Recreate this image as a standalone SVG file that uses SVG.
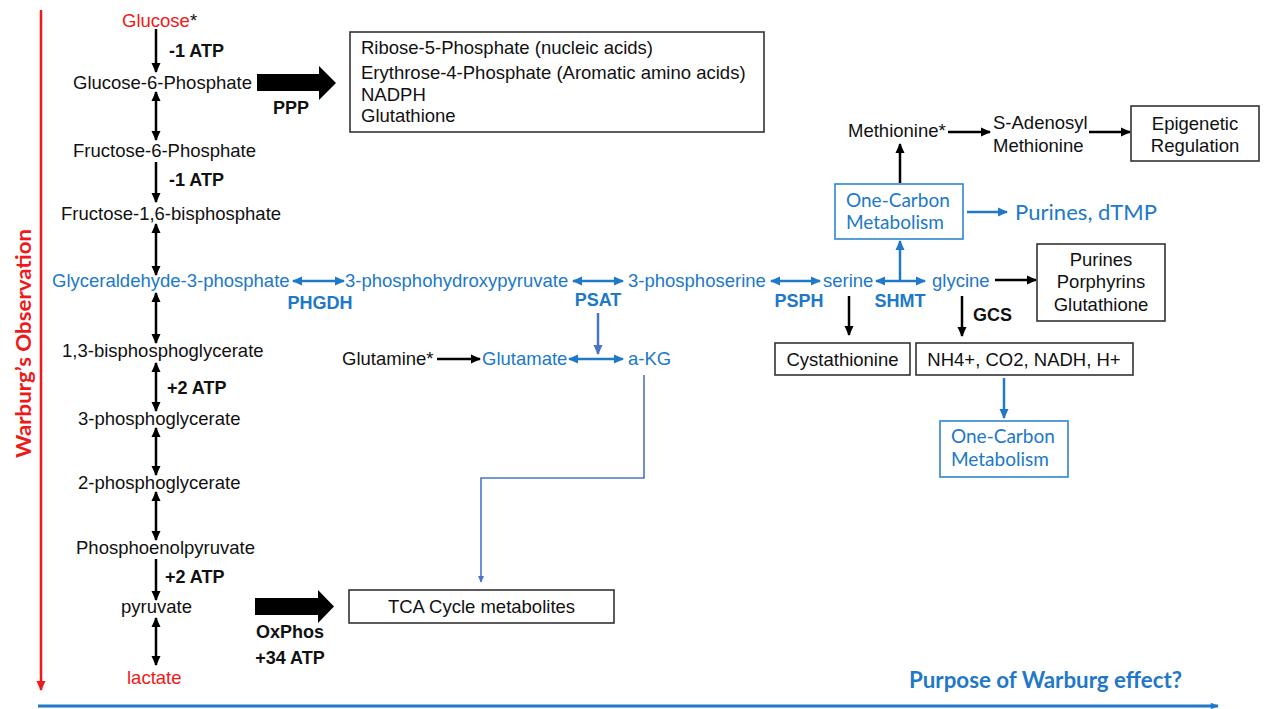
<svg xmlns="http://www.w3.org/2000/svg" width="1268" height="709" viewBox="0 0 1268 709">
<style>
.t{font-family:"Liberation Sans",Arial,sans-serif;font-size:18.5px;fill:#111}
.b{font-family:"Liberation Sans",Arial,sans-serif;font-size:18px;font-weight:bold;fill:#111}
.bl{fill:#2078C8}
.rd{fill:#F01818}
.c{font-family:Lato,"Open Sans",sans-serif;fill:#2078C8}
.box{fill:#fff;stroke:#333;stroke-width:1.6}
.bbox{fill:#fff;stroke:#2E86D0;stroke-width:1.6}
.k{stroke:#000;stroke-width:2.5;fill:none}
.u{stroke:#2078C8;stroke-width:2.5;fill:none}
.p{stroke:#4A74C9;stroke-width:2.5;fill:none}
</style>
<defs>
<marker id="hk" viewBox="0 0 10 10" refX="9" refY="5" markerWidth="10" markerHeight="10" markerUnits="userSpaceOnUse" orient="auto-start-reverse"><path d="M0,0.5L10,5L0,9.5z" fill="#000"/></marker>
<marker id="hu" viewBox="0 0 10 10" refX="9" refY="5" markerWidth="10" markerHeight="10" markerUnits="userSpaceOnUse" orient="auto-start-reverse"><path d="M0,0.5L10,5L0,9.5z" fill="#2078C8"/></marker>
<marker id="hp" viewBox="0 0 10 10" refX="9" refY="5" markerWidth="10" markerHeight="10" markerUnits="userSpaceOnUse" orient="auto-start-reverse"><path d="M0,0.5L10,5L0,9.5z" fill="#4A74C9"/></marker>
<marker id="hs" viewBox="0 0 10 10" refX="9" refY="5" markerWidth="7" markerHeight="7" markerUnits="userSpaceOnUse" orient="auto"><path d="M0,0.5L10,5L0,9.5z" fill="#4A74C9"/></marker>
<marker id="hr" viewBox="0 0 10 10" refX="9" refY="5" markerWidth="10" markerHeight="10" markerUnits="userSpaceOnUse" orient="auto"><path d="M0,0.5L10,5L0,9.5z" fill="#F01818"/></marker>
<marker id="ha" viewBox="0 0 10 10" refX="9" refY="5" markerWidth="10" markerHeight="8" markerUnits="userSpaceOnUse" orient="auto"><path d="M0,1L10,5L0,9z" fill="#1F78C8"/></marker>
</defs>

<g id="axes">
<line x1="41" y1="10" x2="41" y2="690" stroke="#F01818" stroke-width="2.5" marker-end="url(#hr)"/>
<line x1="38" y1="706" x2="1218" y2="706" stroke="#1F78C8" stroke-width="3" marker-end="url(#ha)"/>
<text x="22.5" y="343.5" transform="rotate(-90 22.5 343.5)" text-anchor="middle" dominant-baseline="central" font-family="Lato,'Open Sans',sans-serif" font-weight="bold" font-size="21" fill="#F01818" textLength="229" lengthAdjust="spacingAndGlyphs">Warburg’s Observation</text>
<text x="909" y="688" font-family="Lato,'Open Sans',sans-serif" font-weight="bold" font-size="22" fill="#1F78C8" textLength="273" lengthAdjust="spacingAndGlyphs">Purpose of Warburg effect?</text>
</g>

<g id="connectors">
<path class="k" d="M156,29V72" marker-end="url(#hk)"/>
<path class="k" d="M156,92V140" marker-start="url(#hk)" marker-end="url(#hk)"/>
<path class="k" d="M156,162V202" marker-end="url(#hk)"/>
<path class="k" d="M156,224V275" marker-start="url(#hk)" marker-end="url(#hk)"/>
<path class="k" d="M156,293V343" marker-start="url(#hk)" marker-end="url(#hk)"/>
<path class="k" d="M156,363V411" marker-start="url(#hk)" marker-end="url(#hk)"/>
<path class="k" d="M156,428V475" marker-start="url(#hk)" marker-end="url(#hk)"/>
<path class="k" d="M156,492V540" marker-start="url(#hk)" marker-end="url(#hk)"/>
<path class="k" d="M156,559V600" marker-end="url(#hk)"/>
<path class="k" d="M156,618V665" marker-start="url(#hk)" marker-end="url(#hk)"/>
<polygon points="257,74 319,74 319,66 336,83 319,100 319,91 257,91" fill="#000"/>
<polygon points="255,598 318,598 318,590 334,606.5 318,623 318,615 255,615" fill="#000"/>
<path class="u" d="M293,281H344" marker-start="url(#hu)" marker-end="url(#hu)"/>
<path class="u" d="M573,281H623" marker-start="url(#hu)" marker-end="url(#hu)"/>
<path class="u" d="M771,281H820" marker-start="url(#hu)" marker-end="url(#hu)"/>
<path class="u" d="M876,281H925" marker-start="url(#hu)" marker-end="url(#hu)"/>
<path class="u" d="M900,281V241" marker-end="url(#hu)"/>
<path class="u" d="M967,212H1007" marker-end="url(#hu)"/>
<path class="u" d="M1004,378V418" marker-end="url(#hu)"/>
<path class="p" d="M598,313V354" marker-end="url(#hp)"/>
<path class="k" d="M437,359H480" marker-end="url(#hk)"/>
<path class="u" d="M569,359H623" marker-start="url(#hu)" marker-end="url(#hu)"/>
<path d="M644,375V478H481V582" fill="none" stroke="#4A74C9" stroke-width="1.6" marker-end="url(#hs)"/>
<path class="k" d="M900,183V144" marker-end="url(#hk)"/>
<path class="k" d="M948,132H990" marker-end="url(#hk)"/>
<path class="k" d="M1089,132H1130" marker-end="url(#hk)"/>
<path class="k" d="M995,280H1036" marker-end="url(#hk)"/>
<path class="k" d="M849,296V335" marker-end="url(#hk)"/>
<path class="k" d="M962,296V336" marker-end="url(#hk)"/>
</g>

<g id="glucose"><text class="t" x="122" y="27"><tspan class="rd">Glucose</tspan>*</text></g>
<g id="g6p"><text class="t" x="73" y="89">Glucose-6-Phosphate</text></g>
<g id="f6p"><text class="t" x="73" y="157">Fructose-6-Phosphate</text></g>
<g id="f16bp"><text class="t" x="61" y="220">Fructose-1,6-bisphosphate</text></g>
<g id="g3p"><text class="t bl" x="52" y="287">Glyceraldehyde-3-phosphate</text></g>
<g id="bpg13"><text class="t" x="62" y="357">1,3-bisphosphoglycerate</text></g>
<g id="pg3"><text class="t" x="78" y="425">3-phosphoglycerate</text></g>
<g id="pg2"><text class="t" x="78" y="489">2-phosphoglycerate</text></g>
<g id="pep"><text class="t" x="76" y="554">Phosphoenolpyruvate</text></g>
<g id="pyruvate"><text class="t" x="121" y="613">pyruvate</text></g>
<g id="lactate"><text class="t rd" x="127" y="684">lactate</text></g>

<g id="labels">
<text class="b" x="169" y="57">-1 ATP</text>
<text class="b" x="169" y="186">-1 ATP</text>
<text class="b" x="167" y="394">+2 ATP</text>
<text class="b" x="165" y="583">+2 ATP</text>
<text class="b" x="273" y="114">PPP</text>
<text class="b" x="290" y="638" text-anchor="middle">OxPhos</text>
<text class="b" x="290" y="664" text-anchor="middle">+34 ATP</text>
<text class="b bl" x="320" y="309" text-anchor="middle">PHGDH</text>
<text class="b bl" x="598" y="306" text-anchor="middle">PSAT</text>
<text class="b bl" x="799" y="307" text-anchor="middle">PSPH</text>
<text class="b bl" x="900" y="307" text-anchor="middle">SHMT</text>
<text class="b" x="973" y="321">GCS</text>
</g>

<g id="ppp-box">
<rect class="box" x="350" y="32" width="414" height="100"/>
<text class="t" x="361" y="54">Ribose-5-Phosphate (nucleic acids)</text>
<text class="t" x="361" y="79">Erythrose-4-Phosphate (Aromatic amino acids)</text>
<text class="t" x="361" y="101">NADPH</text>
<text class="t" x="361" y="122">Glutathione</text>
</g>
<g id="tca-box">
<rect class="box" x="349" y="590" width="265" height="33"/>
<text class="t" x="481.5" y="613" text-anchor="middle">TCA Cycle metabolites</text>
</g>

<g id="php"><text class="t bl" x="345" y="287">3-phosphohydroxypyruvate</text></g>
<g id="pser"><text class="t bl" x="628" y="287">3-phosphoserine</text></g>
<g id="serine"><text class="t bl" x="823" y="287">serine</text></g>
<g id="glycine"><text class="t bl" x="932" y="287">glycine</text></g>
<g id="glutamine"><text class="t" x="342" y="365">Glutamine*</text></g>
<g id="glutamate"><text class="t bl" x="482" y="365">Glutamate</text></g>
<g id="akg"><text class="t bl" x="628" y="365">a-KG</text></g>

<g id="methionine"><text class="t" x="848" y="137">Methionine*</text></g>
<g id="sam">
<text class="t" x="993" y="129">S-Adenosyl</text>
<text class="t" x="993" y="152">Methionine</text>
</g>
<g id="epigenetic">
<rect class="box" x="1131" y="106" width="128" height="55"/>
<text class="t" x="1195" y="130" text-anchor="middle">Epigenetic</text>
<text class="t" x="1195" y="152" text-anchor="middle">Regulation</text>
</g>
<g id="one-carbon-1">
<rect class="bbox" x="835" y="184" width="128" height="55"/>
<text class="c" x="846" y="207" font-size="19">One-Carbon</text>
<text class="c" x="846" y="229" font-size="19">Metabolism</text>
</g>
<g id="purines-dtmp"><text class="c" x="1015" y="220" font-size="22" textLength="142">Purines, dTMP</text></g>
<g id="purines-box">
<rect class="box" x="1037" y="244" width="128" height="77"/>
<text class="t" x="1101" y="266" text-anchor="middle">Purines</text>
<text class="t" x="1101" y="288" text-anchor="middle">Porphyrins</text>
<text class="t" x="1101" y="311" text-anchor="middle">Glutathione</text>
</g>
<g id="cystathionine">
<rect class="box" x="775" y="343" width="135" height="32"/>
<text class="t" x="842.5" y="366" text-anchor="middle">Cystathionine</text>
</g>
<g id="gcs-products">
<rect class="box" x="916" y="343" width="217" height="32"/>
<text class="t" x="1024" y="366" text-anchor="middle">NH4+, CO2, NADH, H+</text>
</g>
<g id="one-carbon-2">
<rect class="bbox" x="940" y="421" width="128" height="56"/>
<text class="c" x="951" y="443" font-size="19">One-Carbon</text>
<text class="c" x="951" y="466" font-size="19">Metabolism</text>
</g>
</svg>
